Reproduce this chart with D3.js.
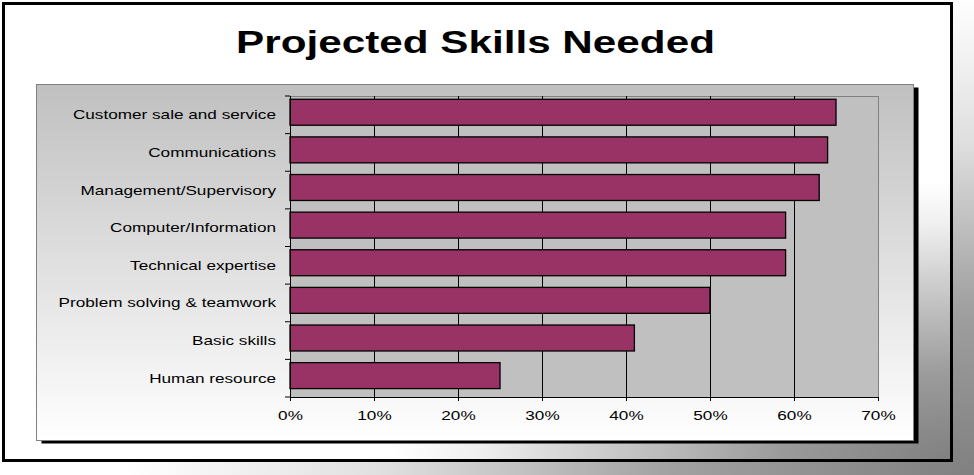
<!DOCTYPE html>
<html>
<head>
<meta charset="utf-8">
<script src="https://cdn.jsdelivr.net/npm/d3@7"></script>
<style>
 body { margin: 0; overflow: hidden; background: #fff; }
 text { font-family: 'Liberation Sans', Arial, sans-serif; }
</style>
</head>
<body>
<svg width="974" height="475"></svg>
<script>
'use strict';
//..........Data................
const categories = [
  'Customer sale and service',
  'Communications',
  'Management/Supervisory',
  'Computer/Information',
  'Technical expertise',
  'Problem solving & teamwork',
  'Basic skills',
  'Human resource'
];
const values = [0.65, 0.64, 0.63, 0.59, 0.59, 0.50, 0.41, 0.25];
const xTicks = [0, 0.1, 0.2, 0.3, 0.4, 0.5, 0.6, 0.7];
const title = 'Projected Skills Needed';

//..........Layout................
const svg = d3.select('svg');
const W = +svg.attr('width'), H = +svg.attr('height');
const sx = 1.32; // text in the picture is stretched sideways
const frame = { x: 3.5, y: 3.5, w: 948, h: 457 };
const box = { x: 36.5, y: 84.5, w: 877, h: 356 };
const plot = { left: 290, right: 878, top: 96, bottom: 397 };

const defs = svg.append('defs');
function radial(id, cx, cy, rx, ry, stops) {
  const g = defs.append('radialGradient')
    .attr('id', id)
    .attr('gradientUnits', 'userSpaceOnUse')
    .attr('cx', 0).attr('cy', 0).attr('r', 1)
    .attr('gradientTransform', `translate(${cx} ${cy}) scale(${rx} ${ry})`);
  stops.forEach(s => g.append('stop').attr('offset', s[0]).attr('stop-color', s[1]));
}
radial('bgGrad', W, H, 850, 480,
  [[0, '#808080'], [0.35, '#a0a0a0'], [0.7, '#e0e0e0'], [1, '#ffffff']]);
radial('frameGrad', frame.x + frame.w, frame.y + frame.h, 560, 280,
  [[0, '#808080'], [0.3, '#9a9a9a'], [0.6, '#c8c8c8'], [0.85, '#f0f0f0'], [1, '#ffffff']]);
const boxGrad = defs.append('linearGradient')
  .attr('id', 'boxGrad').attr('x1', 0).attr('y1', 0).attr('x2', 0).attr('y2', 1);
boxGrad.append('stop').attr('offset', 0).attr('stop-color', '#c0c0c0');
boxGrad.append('stop').attr('offset', 1).attr('stop-color', '#ffffff');

//..........Background & frames................
svg.append('rect').attr('width', W).attr('height', H).attr('fill', 'url(#bgGrad)');
svg.append('rect')
  .attr('x', frame.x).attr('y', frame.y).attr('width', frame.w).attr('height', frame.h)
  .attr('fill', 'url(#frameGrad)').attr('stroke', '#000').attr('stroke-width', 3);

// title
svg.append('text')
  .attr('transform', `translate(${(233 + 718) / 2} 53) scale(${sx} 1)`)
  .attr('text-anchor', 'middle')
  .attr('font-size', 32).attr('font-weight', 'bold')
  .attr('fill', '#000')
  .text(title);

// chart box with shadow
svg.append('rect')
  .attr('x', box.x + 5).attr('y', box.y + 3).attr('width', box.w).attr('height', box.h)
  .attr('fill', '#000');
svg.append('rect')
  .attr('x', box.x).attr('y', box.y).attr('width', box.w).attr('height', box.h)
  .attr('fill', 'url(#boxGrad)').attr('stroke', '#808080').attr('stroke-width', 1);

//..........Scales................
const x = d3.scaleLinear().domain([0, 0.7]).range([plot.left, plot.right]);
const y = d3.scaleBand().domain(categories).range([plot.top, plot.bottom])
  .paddingInner(0.31).paddingOuter(0.155).align(0.28);
const step = y.step();

// plot area
svg.append('rect')
  .attr('x', plot.left).attr('y', plot.top)
  .attr('width', plot.right - plot.left).attr('height', plot.bottom - plot.top)
  .attr('fill', '#c0c0c0').attr('stroke', '#808080').attr('stroke-width', 1)
  .attr('shape-rendering', 'crispEdges');

// gridlines
svg.append('g').selectAll('line')
  .data(xTicks.filter(d => d > 0 && d < 0.7))
  .join('line')
  .attr('x1', d => Math.round(x(d)) + 0.5).attr('x2', d => Math.round(x(d)) + 0.5)
  .attr('y1', plot.top).attr('y2', plot.bottom)
  .attr('stroke', '#000').attr('stroke-width', 1);

//..........Bars................
svg.append('g').selectAll('rect')
  .data(categories)
  .join('rect')
  .attr('x', x(0))
  .attr('y', d => y(d))
  .attr('width', (d, i) => x(values[i]) - x(0))
  .attr('height', y.bandwidth())
  .attr('fill', '#993366')
  .attr('stroke', '#000')
  .attr('stroke-width', 1.3);

//..........X axis................
const xAxis = svg.append('g')
  .attr('transform', `translate(0 ${plot.bottom})`)
  .call(d3.axisBottom(x).tickValues(xTicks).tickFormat(d3.format('.0%')).tickSize(4).tickSizeOuter(0));
xAxis.select('.domain').attr('stroke', '#000');
xAxis.selectAll('.tick line').attr('stroke', '#000');
xAxis.selectAll('.tick text')
  .attr('font-family', "'Liberation Sans', Arial, sans-serif")
  .attr('font-size', 13).attr('fill', '#000')
  .attr('y', 0).attr('dy', 0)
  .attr('transform', `translate(0 22.5) scale(${sx} 1)`);

//..........Y axis (ticks at band boundaries)................
const yAxis = svg.append('g');
yAxis.append('line')
  .attr('x1', plot.left + 0.5).attr('x2', plot.left + 0.5)
  .attr('y1', plot.top).attr('y2', plot.bottom)
  .attr('stroke', '#000');
yAxis.selectAll('line.tick')
  .data(d3.range(categories.length + 1))
  .join('line').attr('class', 'tick')
  .attr('x1', plot.left - 5).attr('x2', plot.left)
  .attr('y1', i => plot.top + i * step).attr('y2', i => plot.top + i * step)
  .attr('stroke', '#000');
yAxis.selectAll('text')
  .data(categories)
  .join('text')
  .attr('transform', (d, i) => `translate(${plot.left - 14} ${plot.top + (i + 0.5) * step + 4.5}) scale(${sx} 1)`)
  .attr('text-anchor', 'end')
  .attr('font-size', 13).attr('fill', '#000')
  .text(d => d);
</script>
</body>
</html>
